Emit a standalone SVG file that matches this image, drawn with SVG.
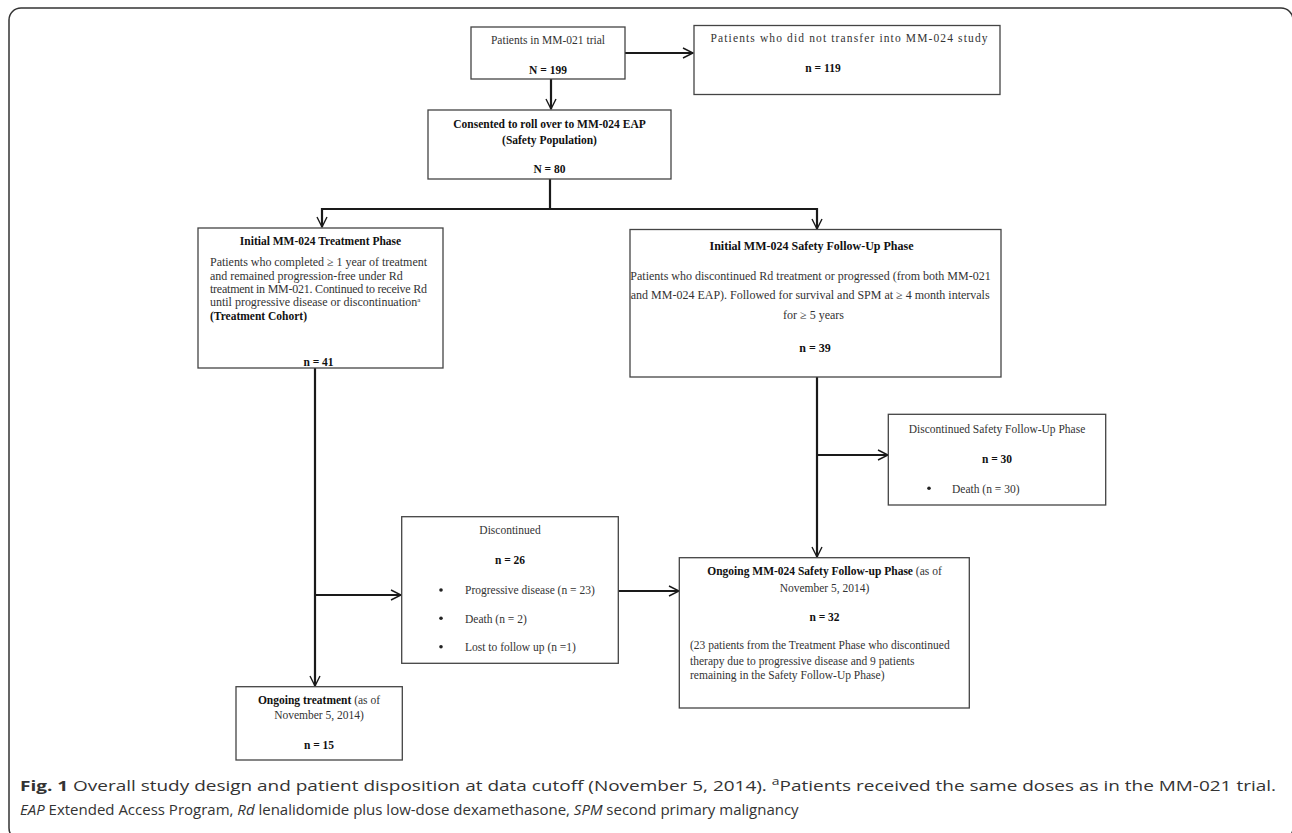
<svg xmlns="http://www.w3.org/2000/svg" width="1292" height="833" viewBox="0 0 1292 833">
<style>
.box{fill:#fff;stroke:#444;stroke-width:1.3}
.t{font-family:"Liberation Serif","Times New Roman",serif;font-size:11.5px;fill:#333}
.c{text-anchor:middle}
.b{font-weight:bold;fill:#111}
.w{font-size:12px}
.s12{font-size:12px}
.conn{fill:none;stroke:#1a1a1a;stroke-width:2.2}
.cap{font-family:"Open Sans","Liberation Sans",sans-serif;font-size:15px;fill:#333}
</style>
<defs>
<marker id="ah" markerUnits="userSpaceOnUse" markerWidth="14" markerHeight="14" viewBox="-12 -7 14 14" refX="0" refY="0" orient="auto">
<path d="M-10,-5 L0,0 L-10,5" fill="none" stroke="#1a1a1a" stroke-width="1.4"/>
</marker>
</defs>
<rect x="0" y="0" width="1292" height="833" fill="#fff"/>
<rect x="9" y="8" width="1284" height="832" rx="12" fill="none" stroke="#333" stroke-width="1.5"/>

<g id="connectors">
<path class="conn" d="M625,53 H693" marker-end="url(#ah)"/>
<path class="conn" d="M551,79 V109" marker-end="url(#ah)"/>
<path class="conn" d="M550,179 V209"/>
<path class="conn" d="M322,209 H817"/>
<path class="conn" d="M322,208 V227" marker-end="url(#ah)"/>
<path class="conn" d="M817,208 V229" marker-end="url(#ah)"/>
<path class="conn" d="M315,368 V686" marker-end="url(#ah)"/>
<path class="conn" d="M315,595 H401" marker-end="url(#ah)"/>
<path class="conn" d="M618,591 H679" marker-end="url(#ah)"/>
<path class="conn" d="M817,377 V557" marker-end="url(#ah)"/>
<path class="conn" d="M817,455 H888" marker-end="url(#ah)"/>
</g>

<g id="n1">
<rect class="box" x="471" y="27" width="154" height="52"/>
<text class="t c" x="548" y="44">Patients in MM-021 trial</text>
<text class="t c b" x="548" y="73.5">N = 199</text>
</g>

<g id="n2">
<rect class="box" x="694" y="25.5" width="306" height="69"/>
<text class="t" x="710.5" y="41.5" textLength="277" lengthAdjust="spacing">Patients who did not transfer into MM-024 study</text>
<text class="t c b" x="823" y="72">n = 119</text>
</g>

<g id="n3">
<rect class="box" x="428" y="110" width="243" height="69"/>
<text class="t c b" x="549.5" y="128">Consented to roll over to MM-024 EAP</text>
<text class="t c b" x="549.5" y="143.5">(Safety Population)</text>
<text class="t c b" x="549.5" y="172.5">N = 80</text>
</g>

<g id="n4">
<rect class="box" x="198" y="228" width="245" height="140"/>
<text class="t c b" x="320.5" y="245">Initial MM-024 Treatment Phase</text>
<text class="t w" x="210" y="266" textLength="217" lengthAdjust="spacing">Patients who completed ≥ 1 year of treatment</text>
<text class="t w" x="210" y="279.5" textLength="192.7" lengthAdjust="spacing">and remained progression-free under Rd</text>
<text class="t w" x="210" y="292.8" textLength="217" lengthAdjust="spacing">treatment in MM-021. Continued to receive Rd</text>
<text class="t w" x="210" y="306"><tspan textLength="207.3" lengthAdjust="spacing">until progressive disease or discontinuation</tspan><tspan font-size="7" dy="-4">a</tspan></text>
<text class="t b" x="210" y="319.5" font-size="10.6">(Treatment Cohort)</text>
<text class="t c b" x="318.5" y="365.5">n = 41</text>
</g>

<g id="n5">
<rect class="box" x="630" y="229.5" width="371" height="147.5"/>
<text class="t c b s12" x="811.5" y="249.5">Initial MM-024 Safety Follow-Up Phase</text>
<text class="t c s12" x="810.5" y="279.5">Patients who discontinued Rd treatment or progressed (from both MM-021</text>
<text class="t c s12" x="810.2" y="299">and MM-024 EAP). Followed for survival and SPM at ≥ 4 month intervals</text>
<text class="t c s12" x="813.5" y="318.5">for ≥ 5 years</text>
<text class="t c b s12" x="815" y="351.5">n = 39</text>
</g>

<g id="n6">
<rect class="box" x="401.7" y="516.7" width="216.6" height="146.6"/>
<text class="t c" x="510" y="533.5">Discontinued</text>
<text class="t c b" x="510" y="563.5">n = 26</text>
<circle cx="441" cy="590" r="1.8" fill="#222"/>
<text class="t" x="465" y="594">Progressive disease (n = 23)</text>
<circle cx="441" cy="618.3" r="1.8" fill="#222"/>
<text class="t" x="465" y="622.5">Death (n = 2)</text>
<circle cx="441" cy="646.7" r="1.8" fill="#222"/>
<text class="t" x="465" y="651">Lost to follow up (n =1)</text>
</g>

<g id="n7">
<rect class="box" x="236" y="686.7" width="166.3" height="73.3"/>
<text class="t c" x="319" y="703.5"><tspan class="b">Ongoing treatment</tspan> (as of</text>
<text class="t c" x="319" y="719">November 5, 2014)</text>
<text class="t c b" x="319" y="749">n = 15</text>
</g>

<g id="n8">
<rect class="box" x="679.3" y="557.7" width="290" height="150.3"/>
<text class="t c" x="824.5" y="575"><tspan class="b">Ongoing MM-024 Safety Follow-up Phase</tspan> (as of</text>
<text class="t c" x="824.5" y="592">November 5, 2014)</text>
<text class="t c b" x="824.5" y="621">n = 32</text>
<text class="t" x="690" y="649">(23 patients from the Treatment Phase who discontinued</text>
<text class="t" x="690" y="665">therapy due to progressive disease and 9 patients</text>
<text class="t" x="690" y="679">remaining in the Safety Follow-Up Phase)</text>
</g>

<g id="n9">
<rect class="box" x="888.3" y="414.3" width="217.4" height="90.7"/>
<text class="t c" x="997" y="432.5">Discontinued Safety Follow-Up Phase</text>
<text class="t c b" x="997" y="462.5">n = 30</text>
<circle cx="929" cy="488.3" r="1.8" fill="#222"/>
<text class="t" x="952" y="492.5">Death (n = 30)</text>
</g>

<g id="caption">
<text class="cap" x="20" y="791" font-size="17" textLength="1256" lengthAdjust="spacingAndGlyphs"><tspan font-weight="bold">Fig. 1</tspan> Overall study design and patient disposition at data cutoff (November 5, 2014). <tspan font-size="11" dy="-6">a</tspan><tspan dy="6">Patients received the same doses as in the MM-021 trial.</tspan></text>
<text class="cap" x="20" y="815"><tspan font-style="italic">EAP</tspan> Extended Access Program, <tspan font-style="italic">Rd</tspan> lenalidomide plus low-dose dexamethasone, <tspan font-style="italic">SPM</tspan> second primary malignancy</text>
</g>
</svg>
